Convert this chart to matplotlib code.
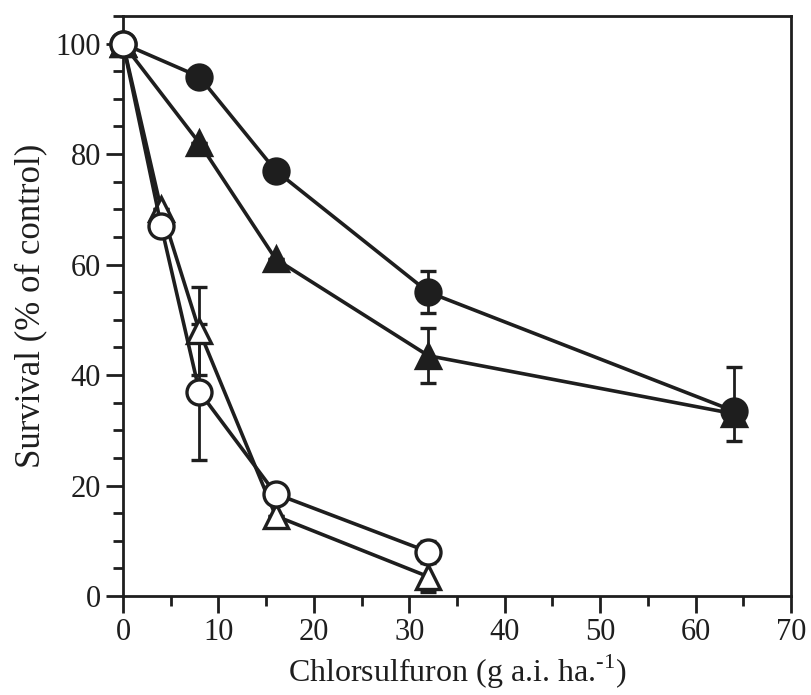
import matplotlib
matplotlib.use("Agg")
import matplotlib.pyplot as plt
from matplotlib.ticker import MultipleLocator

plt.rcParams['font.family'] = ['Liberation Serif', 'DejaVu Serif']
plt.rcParams['mathtext.fontset'] = 'custom'
plt.rcParams['mathtext.rm'] = 'Liberation Serif'

# filled circles
fc_x = [0, 8, 16, 32, 64]
fc_y = [100, 94, 77, 55, 33.5]
fc_err_lo = [0, 0, 0, 3.8, 5.5]
fc_err_hi = [0, 0, 0, 3.8, 8.0]

# filled triangles
ft_x = [0, 8, 16, 32, 64]
ft_y = [100, 82, 61, 43.5, 33]
ft_err = [0, 0, 0, 5.0, 0]

# open triangles
ot_x = [0, 4, 8, 16, 32]
ot_y = [100, 70, 48, 14.5, 3.5]
ot_err = [0, 0, 8.0, 0, 2.8]

# open circles
oc_x = [0, 4, 8, 16, 32]
oc_y = [100, 67, 37, 18.5, 8]
oc_err = [0, 0, 12.3, 0, 2.0]

ink = '#1e1e1e'
fig = plt.figure(figsize=(8.12, 6.95), dpi=100)
ax = fig.add_axes([0.1515, 0.1424, 0.8226, 0.8346])

def series(x, y, err, marker, face, z_line, z_bar, ms):
    line, caps, bars = ax.errorbar(x, y, yerr=err, color=ink, lw=2.6, marker=marker, ms=ms,
                                   mfc=face, mec=ink, mew=2.4, ecolor=ink, elinewidth=2.0,
                                   capsize=6, capthick=2.0, clip_on=False)
    line.set_zorder(z_line)
    for c in caps:
        c.set_zorder(z_bar)
    for b in bars:
        b.set_zorder(z_bar)

series(ft_x, ft_y, ft_err, '^', ink, 4, 3, 17)
series(fc_x, fc_y, [fc_err_lo, fc_err_hi], 'o', ink, 6, 5, 18)
series(ot_x, ot_y, ot_err, '^', 'white', 8, 7, 17)
# open circles sit on top of the open triangles, their error bars beneath
series(oc_x, oc_y, oc_err, 'o', 'white', 9, 6.5, 18)

ax.set_xlim(0, 70)
ax.set_ylim(0, 105)
ax.xaxis.set_major_locator(MultipleLocator(10))
ax.xaxis.set_minor_locator(MultipleLocator(5))
ax.yaxis.set_major_locator(MultipleLocator(20))
ax.yaxis.set_minor_locator(MultipleLocator(5))
ax.tick_params(which='major', direction='out', length=12, width=2.0, labelsize=22, color=ink, labelcolor=ink, pad=4)
ax.tick_params(which='minor', direction='out', length=7, width=2.0, color=ink)
for s in ax.spines.values():
    s.set_linewidth(2.0)
    s.set_color(ink)

ax.set_xlabel('Chlorsulfuron (g a.i. ha.$^{\\text{-1}}$)', fontsize=23, color=ink, labelpad=4)
ax.set_ylabel('Survival (% of control)', fontsize=25, color=ink, labelpad=6)

fig.savefig('out.png', dpi=100)
